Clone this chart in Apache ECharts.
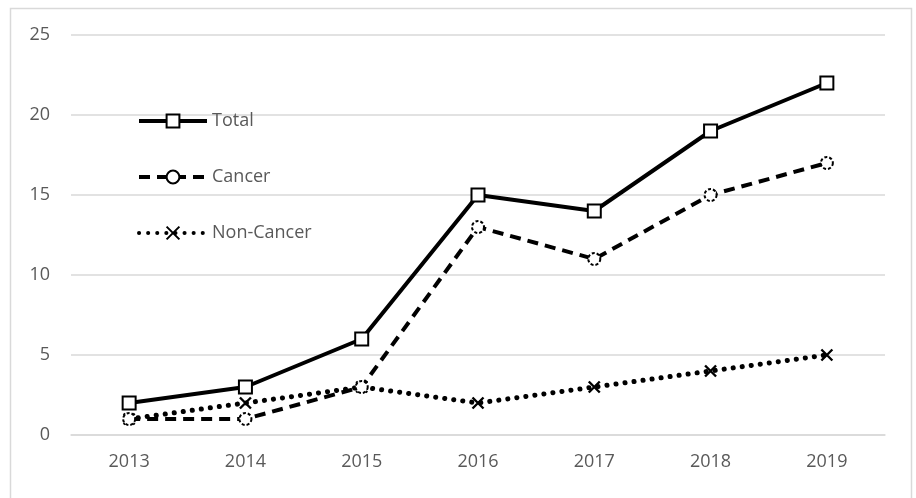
<!DOCTYPE html>
<html>
<head>
<meta charset="utf-8">
<script src="https://cdn.jsdelivr.net/npm/echarts@6/dist/echarts.min.js"></script>
<style>
  html, body { margin: 0; padding: 0; background: #fff; }
  #chart { width: 916px; height: 498px; }
</style>
</head>
<body>
<div id="chart"></div>
<script>
// chart data
const years = ['2013', '2014', '2015', '2016', '2017', '2018', '2019'];
const totalValues = [2, 3, 6, 15, 14, 19, 22];
const cancerValues = [1, 1, 3, 13, 11, 15, 17];
const nonCancerValues = [1, 2, 3, 2, 3, 4, 5];
const yTicks = [0, 5, 10, 15, 20, 25];

const labelColor = '#595959';
const gridColor = '#d9d9d9';
const fontFamily = '"Open Sans", sans-serif';
const crossPath = 'path://M0,0L10,10M10,0L0,10';

const chart = echarts.init(document.getElementById('chart'), null, { renderer: 'canvas' });

const option = {
  backgroundColor: '#fff',
  animation: false,
  graphic: [{
    type: 'rect',
    shape: { x: 10.5, y: 8.5, width: 901, height: 500 },
    style: { fill: 'none', stroke: gridColor, lineWidth: 1.5 },
    silent: true,
  }],
  grid: { left: 71, right: 31, top: 35, bottom: 63 },
  legend: {
    orient: 'vertical',
    left: 137,
    top: 112,
    padding: 0,
    itemWidth: 68,
    itemHeight: 16,
    itemGap: 38,
    lineStyle: { width: 4 },
    textStyle: { color: labelColor, fontSize: 18, fontFamily, lineHeight: 18 },
    data: ['Total', 'Cancer', 'Non-Cancer'],
  },
  xAxis: {
    type: 'category',
    data: years,
    boundaryGap: true,
    axisLine: { lineStyle: { color: gridColor, width: 1.5 } },
    axisTick: { show: false },
    axisLabel: { color: labelColor, fontSize: 18, fontFamily, margin: 18 },
  },
  yAxis: {
    type: 'value',
    min: yTicks[0],
    max: yTicks[yTicks.length - 1],
    interval: 5,
    axisLine: { show: false },
    axisTick: { show: false },
    axisLabel: { color: labelColor, fontSize: 18, fontFamily, margin: 21 },
    splitLine: { lineStyle: { color: gridColor, width: 1.5 } },
  },
  series: [
    {
      name: 'Total',
      type: 'line',
      data: totalValues,
      symbol: 'rect',
      symbolSize: 13,
      lineStyle: { color: '#000', width: 4 },
      itemStyle: { color: '#fff', borderColor: '#000', borderWidth: 2 },
      z: 3,
    },
    {
      name: 'Cancer',
      type: 'line',
      data: cancerValues,
      symbol: 'circle',
      symbolSize: 12,
      lineStyle: { color: '#000', width: 4, type: [11, 7] },
      itemStyle: { color: '#fff', borderColor: '#000', borderWidth: 2, borderType: [3, 2] },
      z: 2,
    },
    {
      name: 'Non-Cancer',
      type: 'line',
      data: nonCancerValues,
      symbol: crossPath,
      symbolSize: 11,
      lineStyle: { color: '#000', width: 5, type: [0.1, 9], cap: 'round' },
      itemStyle: { color: 'none', borderColor: '#000', borderWidth: 2.4 },
      z: 1,
    },
  ],
};

chart.setOption(option);
</script>
</body>
</html>
